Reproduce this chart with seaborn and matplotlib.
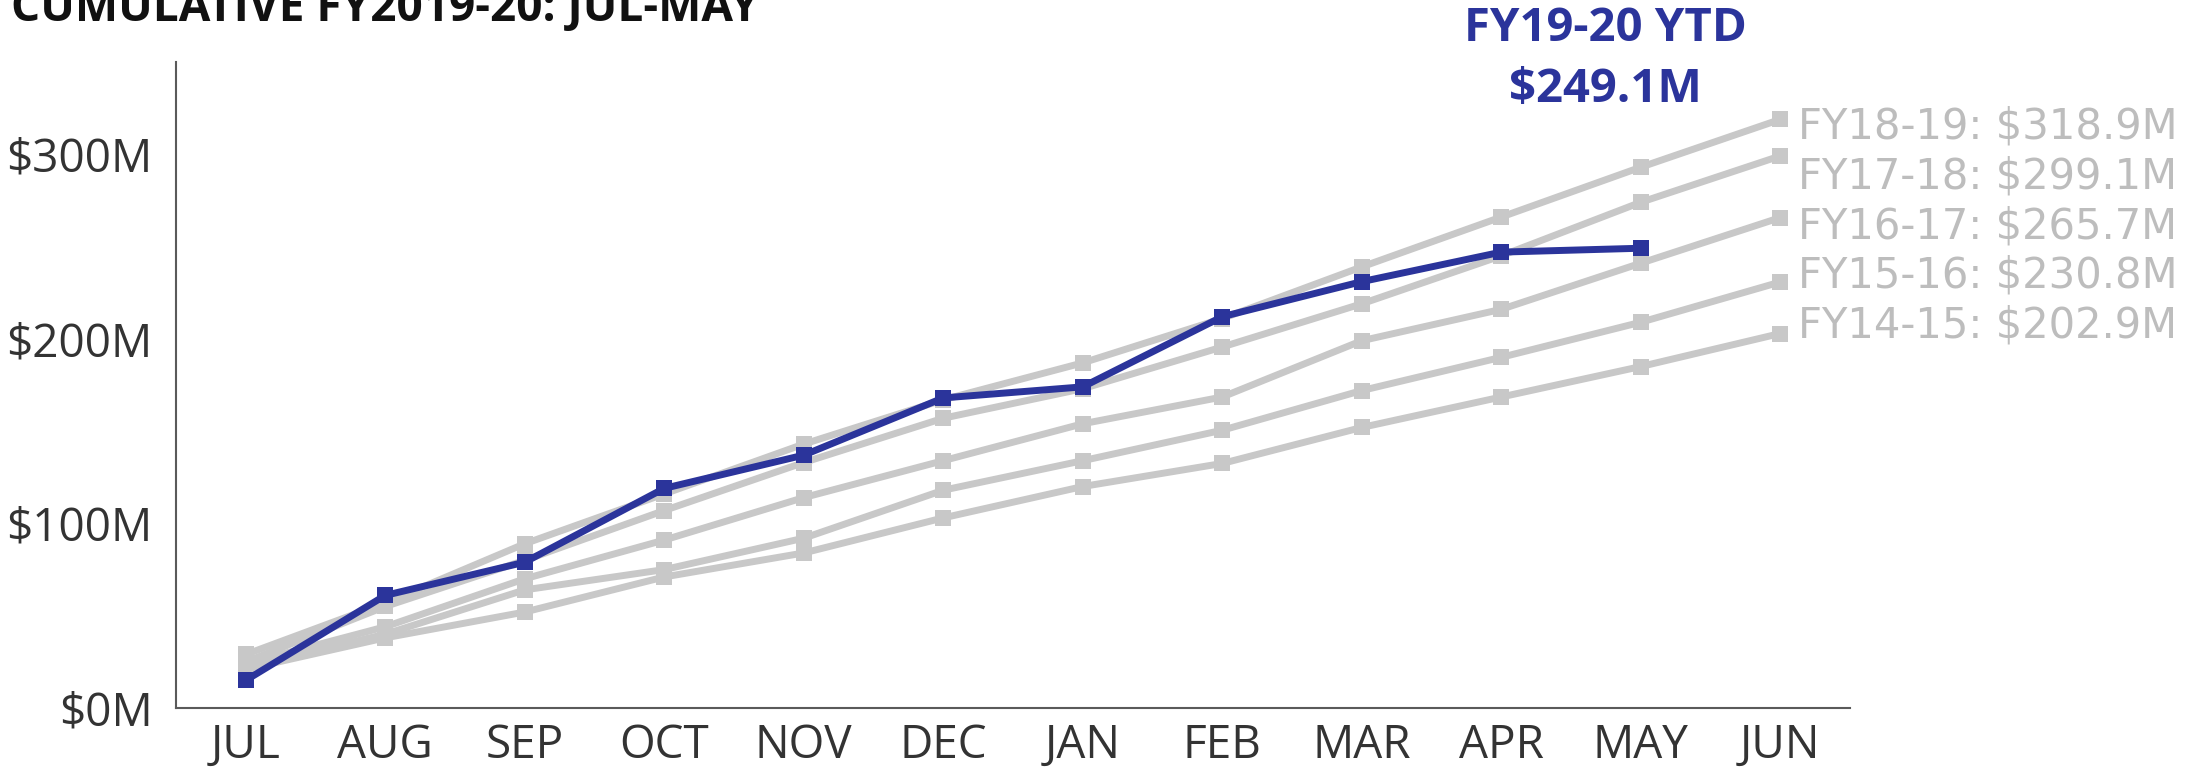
import numpy as np
import pandas as pd
import matplotlib
matplotlib.use("Agg")
import matplotlib.pyplot as plt
import seaborn as sns

# months of the fiscal year
months = ["JUL", "AUG", "SEP", "OCT", "NOV", "DEC", "JAN", "FEB", "MAR", "APR", "MAY", "JUN"]

# cumulative revenue, $M
fy14_15 = [21, 38, 52, 71, 84, 103, 120, 132.5, 152, 168.5, 185, 202.9]
fy15_16 = [22, 40, 64, 75, 92, 118, 134, 150.5, 172, 190, 209, 230.8]
fy16_17 = [24, 44, 70, 91, 114, 134, 154, 168.5, 199, 216, 241, 265.7]
fy17_18 = [25, 55, 80, 107, 133, 157, 173, 195.6, 219, 245, 274, 299.1]
fy18_19 = [29, 57, 89, 116, 143, 167, 187, 211, 239, 266, 293, 318.9]
fy19_20 = [15, 61, 79, 119, 137, 168, 174, 212, 231, 247, 249.1]

past_years = {
    "FY14-15": fy14_15,
    "FY15-16": fy15_16,
    "FY16-17": fy16_17,
    "FY17-18": fy17_18,
    "FY18-19": fy18_19,
}

yticks = [0, 50, 100, 150, 200, 250, 300, 350]

gray = "#C8C8C8"
label_gray = "#BDBDBD"
blue = "#2B349B"
axis_color = "#5A5A5A"

# long form table for seaborn
rows = []
for name, vals in past_years.items():
    for m, v in zip(months, vals):
        rows.append({"month": m, "value": v, "year": name})
for m, v in zip(months, fy19_20):
    rows.append({"month": m, "value": v, "year": "FY19-20"})
df = pd.DataFrame(rows)

sns.set_style("white")
plt.rcParams["font.family"] = ["Open Sans", "DejaVu Sans"]

fig = plt.figure(figsize=(22.11, 7.68), dpi=100)
ax = fig.add_axes([176 / 2211, 60 / 768, (1850 - 176) / 2211, (708 - 62) / 768])

palette = {name: gray for name in past_years}
palette["FY19-20"] = blue
hue_order = list(past_years) + ["FY19-20"]

sns.lineplot(data=df, x="month", y="value", hue="year", hue_order=hue_order,
             palette=palette, sort=False, linewidth=5, marker="s", markersize=11,
             markeredgewidth=0, legend=False, ax=ax)

ax.set_xlim(-0.5, len(months) - 0.5)
ax.set_ylim(0, 350)
ax.set_xlabel("")
ax.set_ylabel("")

# y axis: inward ticks, labels every $100M
ax.set_yticks(yticks)
ax.set_yticklabels([f"${v}M" if v % 100 == 0 else "" for v in yticks])
ax.tick_params(axis="y", direction="in", length=30, width=1.5, color=axis_color,
               pad=17, labelsize=33, labelcolor="#333333")

# x axis: labels on categories, tick marks between them
ax.set_xticks(range(len(months)))
ax.set_xticklabels(months)
ax.set_xticks(np.arange(0.5, len(months), 1), minor=True)
ax.tick_params(axis="x", which="major", length=0, pad=11, labelsize=33,
               labelcolor="#333333")
ax.tick_params(axis="x", which="minor", direction="in", length=17, width=1.5,
               color=axis_color)

for side in ["top", "right"]:
    ax.spines[side].set_visible(False)
for side in ["left", "bottom"]:
    ax.spines[side].set_color(axis_color)
    ax.spines[side].set_linewidth(1.5)

# end labels of past years, spread evenly so they don't collide
ends = np.array([vals[-1] for vals in past_years.values()])
mid = ends.mean()
half_span = (ends.max() - ends.min()) / 2 * 0.93
label_y = mid + np.linspace(-1, 1, len(ends)) * half_span
for (name, vals), ly in zip(past_years.items(), label_y):
    ax.text(len(months) - 1 + 0.13, ly, f"{name}: ${vals[-1]:.1f}M",
            ha="left", va="center_baseline", fontsize=30, color=label_gray,
            family="DejaVu Sans", clip_on=False)

# current year callout
ax.text(9.75, 368, "FY19-20 YTD", ha="center", va="center", fontsize=34,
        fontweight="bold", color=blue, clip_on=False)
ax.text(9.75, 335, f"${fy19_20[-1]:.1f}M", ha="center", va="center", fontsize=34,
        fontweight="bold", color=blue, clip_on=False)

fig.text(11 / 2211, 1 - 21 / 768, "CUMULATIVE FY2019-20: JUL-MAY", ha="left",
         va="baseline", fontsize=33, fontweight="bold", color="#111111")

fig.savefig("out.png", dpi=100)
